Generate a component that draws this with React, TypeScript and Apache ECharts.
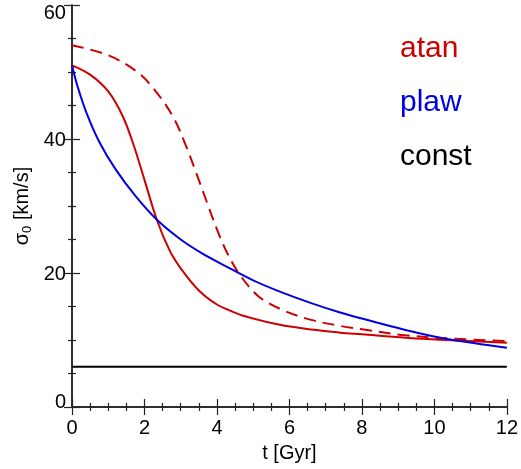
import React, { useEffect, useRef } from "react";
import * as echarts from "echarts";

const atanT = [0, 0.5, 1, 1.4, 1.7, 2.0, 2.35, 2.7, 3.0, 3.5, 4.0, 4.4, 4.8, 5.7, 6.6, 7.4, 8.0, 9.2, 10.5, 12];
const atanV = [51, 49.6, 47.1, 43.4, 39.1, 33.9, 27.8, 23.3, 20.7, 17.4, 15.3, 14.3, 13.5, 12.3, 11.55, 11.1, 10.85, 10.35, 9.95, 9.6];

const atanDashT = [0, 1, 1.8, 2.3, 2.8, 3.15, 3.45, 3.7, 4.0, 4.3, 4.65, 5.15, 5.8, 6.6, 7.4, 8.0, 9.2, 10.5, 12];
const atanDashV = [54, 52.5, 50, 47.2, 43.2, 38.9, 34.6, 30.9, 26.5, 22.8, 19.6, 16.5, 14.5, 13, 12.1, 11.6, 10.7, 10.2, 9.85];

const plawT = [0, 0.15, 0.4, 0.75, 1.2, 1.75, 2.35, 3.0, 3.6, 4.25, 5.0, 5.7, 6.6, 7.4, 8.0, 9.2, 10.4, 12];
const plawV = [51, 47.9, 43.9, 39.6, 35.5, 31.5, 27.9, 25.0, 22.9, 21.0, 18.9, 17.3, 15.5, 14.1, 13.2, 11.5, 10.1, 8.85];

const constT = [0, 12];
const constV = [6, 6];

const legendNames = ["atan", "plaw", "const"];
const legendColors = ["#cc0000", "#0000e6", "#000000"];

const xTickLabels = ["0", "2", "4", "6", "8", "10", "12"];
const yTickLabels = ["0", "20", "40", "60"];

const FONT = "Liberation Sans";

function pairs(t: number[], v: number[]) {
  return t.map((x, i) => [x, v[i]]);
}

export default function App() {
  const ref = useRef<HTMLDivElement>(null);
  useEffect(() => {
    if (!ref.current) return;
    const chart = echarts.init(ref.current, undefined, { renderer: "svg" });
    const axisLine = { show: true, lineStyle: { color: "#222", width: 1.5 } };
    const majorTick = { show: true, inside: true, length: 8, lineStyle: { color: "#222", width: 1.2 } };
    const minorTick = { show: true, splitNumber: 4, length: 4, lineStyle: { color: "#222", width: 1.2 } };
    const yLabel = (v: number) => {
      const s = yTickLabels.find((l) => Number(l) === v) ?? String(v);
      if (v === 60) return "{top|" + s + "}";
      if (v === 0) return "{bot|" + s + "}";
      return "{n|" + s + "}";
    };
    const labelRich = {
      n: { fontSize: 20, fontFamily: FONT, color: "#000" },
      top: { fontSize: 20, fontFamily: FONT, color: "#000", padding: [14, 0, 0, 0] },
      bot: { fontSize: 20, fontFamily: FONT, color: "#000", padding: [0, 0, 12, 0] },
    };
    const curve = (name: string, t: number[], v: number[], color: string, type: any) => ({
      name,
      type: "line",
      data: pairs(t, v),
      smooth: 0.35,
      showSymbol: false,
      lineStyle: { color, width: 2, type },
    });
    chart.setOption({
      animation: false,
      grid: { left: 72, right: 12, top: 5, bottom: 62 },
      xAxis: [
        {
          type: "value",
          min: 0,
          max: 12,
          interval: 2,
          name: "t [Gyr]",
          nameLocation: "middle",
          nameGap: 34,
          nameTextStyle: { fontSize: 20, fontFamily: FONT, color: "#000" },
          axisLine,
          axisTick: majorTick,
          minorTick,
          splitLine: { show: false },
          axisLabel: {
            fontSize: 20,
            fontFamily: FONT,
            color: "#000",
            margin: 10,
            formatter: (v: number) => xTickLabels.find((l) => Number(l) === v) ?? String(v),
          },
        },
        {
          type: "value",
          position: "top",
          min: 0,
          max: 12,
          interval: 2,
          axisLine,
          axisTick: majorTick,
          minorTick,
          splitLine: { show: false },
          axisLabel: { show: false },
        },
      ],
      yAxis: [
        {
          type: "value",
          min: 0,
          max: 60,
          interval: 20,
          name: "{s|σ}{sub|0}{s| [km/s]}",
          nameLocation: "middle",
          nameGap: 38,
          nameRotate: 90,
          nameTextStyle: {
            fontSize: 20,
            fontFamily: FONT,
            color: "#000",
            rich: {
              s: { fontSize: 20, fontFamily: FONT, color: "#000", lineHeight: 22, verticalAlign: "top" },
              sub: { fontSize: 13, fontFamily: FONT, color: "#000", lineHeight: 14, verticalAlign: "bottom" },
            },
          },
          axisLine,
          axisTick: majorTick,
          minorTick,
          splitLine: { show: false },
          axisLabel: { margin: 6, formatter: yLabel, rich: labelRich },
        },
        {
          type: "value",
          position: "right",
          min: 0,
          max: 60,
          interval: 20,
          axisLine,
          axisTick: majorTick,
          minorTick,
          splitLine: { show: false },
          axisLabel: { show: false },
        },
      ],
      series: [
        curve("atan", atanT, atanV, legendColors[0], "solid"),
        curve("atan dashed", atanDashT, atanDashV, legendColors[0], [12, 7]),
        curve("plaw", plawT, plawV, legendColors[1], "solid"),
        {
          name: "const",
          type: "line",
          data: pairs(constT, constV),
          showSymbol: false,
          lineStyle: { color: legendColors[2], width: 2 },
        },
      ],
      graphic: legendNames.map((n, i) => ({
        type: "text",
        left: 400,
        top: 31 + i * 54,
        style: { text: n, fill: legendColors[i], fontSize: 30, fontFamily: FONT },
      })),
    });
    return () => chart.dispose();
  }, []);
  return <div ref={ref} style={{ position: "fixed", left: 0, top: 0, width: 521, height: 469 }} />;
}
